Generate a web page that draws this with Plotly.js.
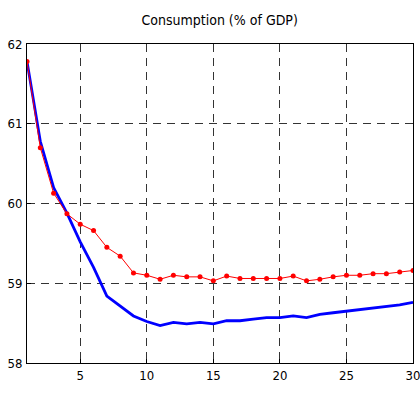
<!DOCTYPE html>
<html><head><meta charset="utf-8">
<script src="https://cdn.plot.ly/plotly-3.0.1.min.js"></script>
<style>html,body{margin:0;padding:0;background:#fff;}#chart{width:420px;height:396px;}</style>
</head><body><div id="chart"></div>
<script>
const periods = [1,2,3,4,5,6,7,8,9,10,11,12,13,14,15,16,17,18,19,20,21,22,23,24,25,26,27,28,29,30];
const blueSeries = [61.78,60.78,60.2,59.88,59.52,59.2,58.84,58.71,58.59,58.52,58.47,58.51,58.49,58.51,58.49,58.53,58.53,58.55,58.57,58.57,58.59,58.57,58.61,58.63,58.65,58.67,58.69,58.71,58.73,58.76];
const redSeries = [61.78,60.7,60.13,59.87,59.74,59.66,59.45,59.34,59.13,59.1,59.05,59.1,59.08,59.08,59.03,59.09,59.06,59.06,59.06,59.06,59.09,59.03,59.05,59.08,59.1,59.1,59.12,59.12,59.14,59.16];
const xTicks = [5,10,15,20,25,30];
const yTicks = [58,59,60,61,62];
const titleText = 'Consumption (% of GDP)';

const font = "'DejaVu Sans Condensed', 'Liberation Sans Narrow', sans-serif";
const traces = [
  {x: periods, y: blueSeries, type:'scatter', mode:'lines', line:{color:'#0000ff', width:2.8}, hoverinfo:'skip'},
  {x: periods, y: redSeries, type:'scatter', mode:'lines+markers', line:{color:'#ff0000', width:1}, marker:{color:'#ff0000', size:5, symbol:'circle'}, hoverinfo:'skip'}
];
const axisCommon = {
  showline:true, linecolor:'#000', linewidth:1, mirror:true,
  showgrid:true, gridcolor:'#333', griddash:'8px,6px', gridwidth:1,
  zeroline:false, ticks:'inside', ticklen:4, tickcolor:'#000',
  tickfont:{family:font, size:13, color:'#000'}, ticklabeloverflow:'allow'
};
const layout = {
  width:420, height:396,
  margin:{l:27, r:7, t:44, b:33},
  paper_bgcolor:'#fff', plot_bgcolor:'#fff',
  showlegend:false,
  title:{text:titleText, font:{family:font, size:14, color:'#000'}, x:0.523, xanchor:'center', y:0.95, yanchor:'middle'},
  xaxis:Object.assign({}, axisCommon, {range:[0.9999,30.0001], tickvals:xTicks, ticktext:xTicks.map(String)}),
  yaxis:Object.assign({}, axisCommon, {range:[58,62], tickvals:yTicks, ticktext:yTicks.map(String), ticklabelstandoff:1})
};
Plotly.newPlot('chart', traces, layout, {staticPlot:true, displayModeBar:false});
</script>
</body></html>
